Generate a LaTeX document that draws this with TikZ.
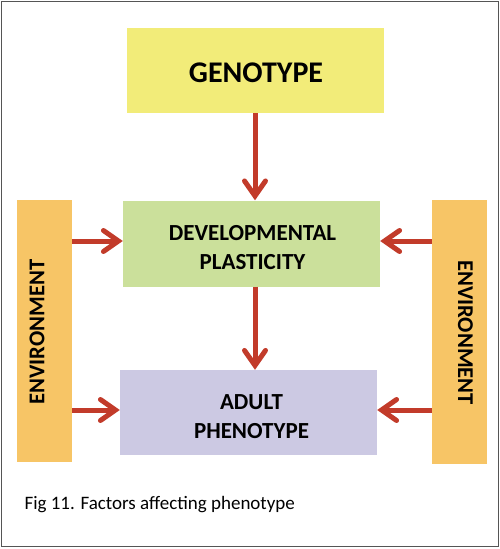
\documentclass[tikz,border=0pt]{standalone}
\usepackage{fontspec}
\setmainfont{Carlito}
\usepackage{xcolor}
\usetikzlibrary{arrows.meta,positioning,calc}
\definecolor{genoyellow}{HTML}{F2EC79}
\definecolor{devgreen}{HTML}{CBE09B}
\definecolor{adultlav}{HTML}{CCC9E3}
\definecolor{envorange}{HTML}{F7C566}
\definecolor{arrowred}{HTML}{C23B2A}
\definecolor{framegray}{HTML}{555555}
\tikzset{
  box/.style={rectangle, draw=none, align=center, inner sep=0pt, font=\bfseries},
  genobox/.style={box, fill=genoyellow, minimum width=257pt, minimum height=85pt},
  devbox/.style={box, fill=devgreen, minimum width=257pt, minimum height=86pt},
  adultbox/.style={box, fill=adultlav, minimum width=257pt, minimum height=85pt},
  envbox/.style={box, fill=envorange, minimum width=55pt},
  envtext/.style={font=\fontsize{22.6}{26}\selectfont\bfseries, inner sep=0pt},
  flow/.style={-{Straight Barb[length=15pt, width=21pt, line cap=round]}, draw=arrowred, line width=5pt},
}
\begin{document}
\begin{tikzpicture}[x=1pt, y=-1pt]
\useasboundingbox (0,0) rectangle (500,549);
\draw[framegray, line width=1.5pt] (1.5,1.5) rectangle (498.5,546.5);
% boxes
\node[genobox] (geno) at (255.5,70.5) {};
\node[devbox] (dev) at (251.5,243.5) {};
\node[adultbox] (adult) at (248.5,412.5) {};
\node[envbox, minimum height=262pt] (envl) at (44.5,331) {};
\node[envbox, minimum height=264pt] (envr) at (459.5,332) {};
% texts
\node[font=\fontsize{30}{34}\selectfont\bfseries] (genotext) at (256,73) {GENOTYPE};
\node[align=center, font=\fontsize{23}{29}\selectfont\bfseries] (devtext) at (252.5,247.5) {DEVELOPMENTAL\\PLASTICITY};
\node[align=center, font=\fontsize{23}{29}\selectfont\bfseries] (adulttext) at (251.5,416.5) {ADULT\\PHENOTYPE};
\node[envtext, rotate=90] (envltext) at (37,332) {ENVIRONMENT};
\node[envtext, rotate=-90] (envrtext) at (465.5,332.5) {ENVIRONMENT};
% arrow lanes
\coordinate (vx) at (255,0);
\coordinate (upper) at (0,241);
\coordinate (lower) at (0,410);
% arrows
\draw[flow] (geno.south -| vx) -- (dev.north -| vx);
\draw[flow] (dev.south -| vx) -- (adult.north -| vx);
\draw[flow] (envl.east |- upper) -- (dev.west |- upper);
\draw[flow] (envl.east |- lower) -- (adult.west |- lower);
\draw[flow] (envr.west |- upper) -- (dev.east |- upper);
\draw[flow] (envr.west |- lower) -- (adult.east |- lower);
% caption
\node[anchor=west, font=\fontsize{19}{22}\selectfont] (cap) at (21,505) {Fig 11. Factors affecting phenotype};
\end{tikzpicture}
\end{document}
